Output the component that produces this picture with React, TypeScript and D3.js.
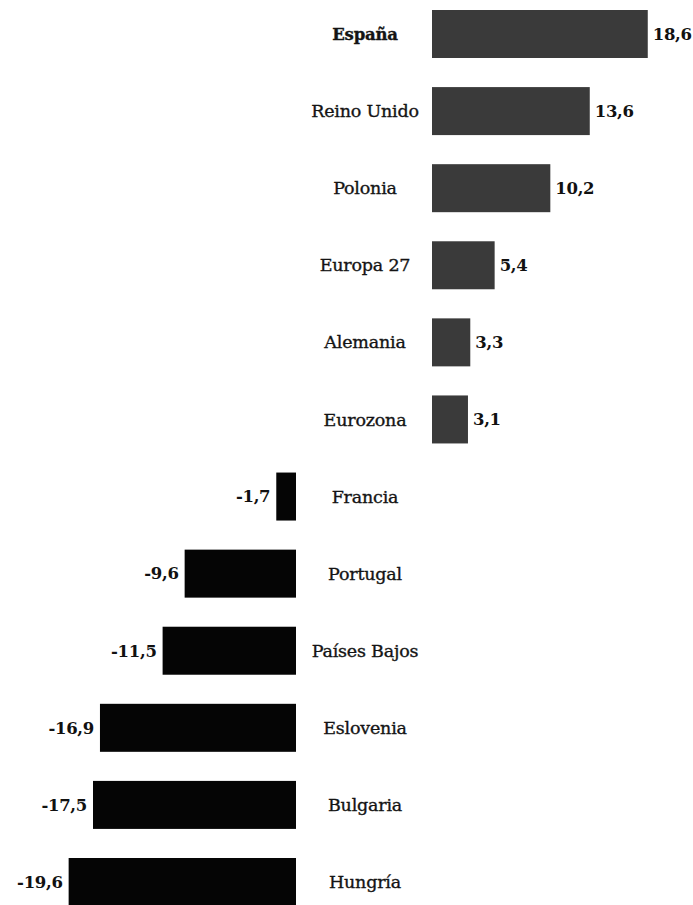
import React from "react";
import * as d3 from "d3";

const categories = [
  "España",
  "Reino Unido",
  "Polonia",
  "Europa 27",
  "Alemania",
  "Eurozona",
  "Francia",
  "Portugal",
  "Países Bajos",
  "Eslovenia",
  "Bulgaria",
  "Hungría",
];
const values = [18.6, 13.6, 10.2, 5.4, 3.3, 3.1, -1.7, -9.6, -11.5, -16.9, -17.5, -19.6];
const highlighted = ["España"];

const W = 693;
const H = 905;

const es = d3.formatLocale({ decimal: ",", thousands: ".", grouping: [3], currency: ["", " €"], minus: "-" });
const fmt = es.format(".1f");

export default function App() {
  const posZero = 432;
  const negZero = 296;
  const labelCenter = 365;
  const barH = 48;

  const len = d3.scaleLinear().domain([0, 20]).range([0, 232]);
  const y = d3.scalePoint<string>().domain(categories).range([34, 882]);

  const font = "'DejaVu Serif', serif";

  return (
    <svg
      width={W}
      height={H}
      style={{ position: "absolute", left: 0, top: 0, background: "#fff" }}
      fontFamily={font}
    >
      <rect x={0} y={0} width={W} height={H} fill="#fff" />
      {categories.map((c, i) => {
        const v = values[i];
        const cy = y(c) as number;
        const w = len(Math.abs(v));
        const pos = v >= 0;
        const bx = pos ? posZero : negZero - w;
        const bold = highlighted.includes(c);
        return (
          <g key={c}>
            <rect
              x={bx}
              y={cy - barH / 2}
              width={w}
              height={barH}
              fill={pos ? "#3a3a3a" : "#050505"}
            />
            <text
              x={labelCenter}
              y={cy}
              dy="0.35em"
              textAnchor="middle"
              fontSize={bold ? 16.5 : 17.5}
              fontWeight={bold ? "bold" : "normal"}
              fill="#141414"
              stroke="#141414"
              strokeWidth={0.35}
              letterSpacing={-0.2}
            >
              {c}
            </text>
            <text
              x={pos ? posZero + w + 5 : negZero - w - 6}
              y={cy}
              dy="0.35em"
              textAnchor={pos ? "start" : "end"}
              fontSize={16.5}
              fontWeight="bold"
              fill="#111"
              letterSpacing={-0.3}
            >
              {fmt(v)}
            </text>
          </g>
        );
      })}
    </svg>
  );
}
